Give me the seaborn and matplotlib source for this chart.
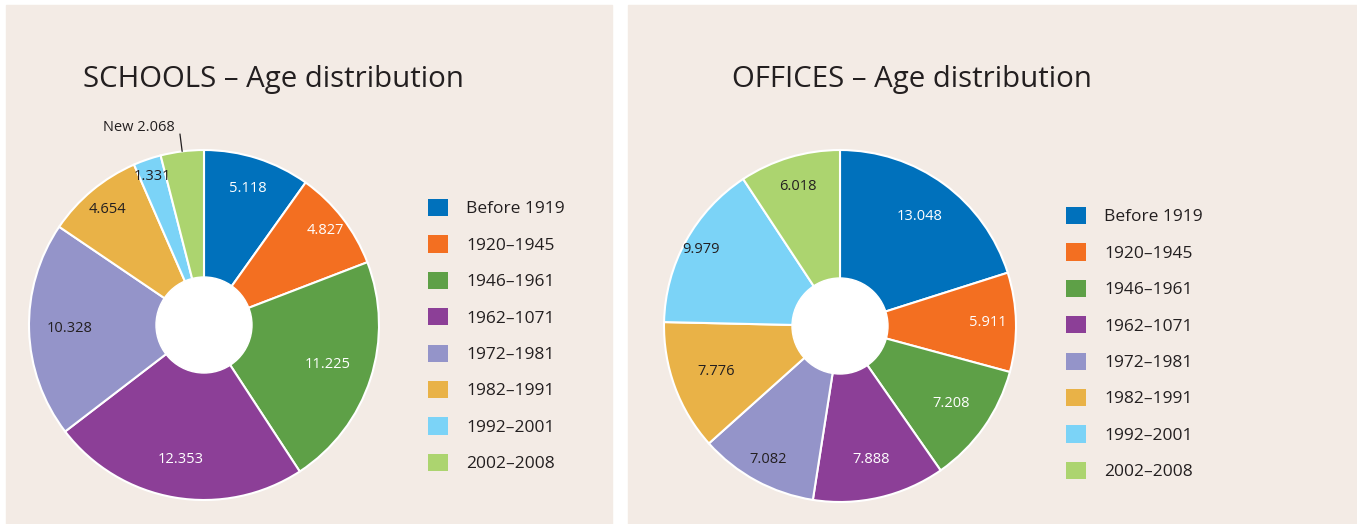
import numpy as np
import matplotlib
matplotlib.use("Agg")
import matplotlib.pyplot as plt
from matplotlib.patches import Rectangle, Circle, Patch
import seaborn as sns

sns.set_style("white")
plt.rcParams['font.family'] = ['Open Sans', 'DejaVu Sans']

# Data
periods = ['Before 1919', '1920–1945', '1946–1961', '1962–1071',
           '1972–1981', '1982–1991', '1992–2001', '2002–2008']
schools = [5.118, 4.827, 11.225, 12.353, 10.328, 4.654, 1.331, 2.068]
offices = [13.048, 5.911, 7.208, 7.888, 7.082, 7.776, 9.979, 6.018]
schools_labels = ['5.118', '4.827', '11.225', '12.353', '10.328', '4.654', '1.331', 'New 2.068']
offices_labels = ['13.048', '5.911', '7.208', '7.888', '7.082', '7.776', '9.979', '6.018']

palette = sns.color_palette(['#0071bc', '#f36f21', '#5ea047', '#8c3f97',
                             '#9494c9', '#e9b247', '#7bd3f7', '#acd46f'])
white_text = [True, True, True, True, False, False, False, False]

panel_color = '#f3ebe5'
text_color = '#231f20'

W, H = 1357, 524
fig = plt.figure(figsize=(W / 100, H / 100), dpi=100)
fig.patch.set_facecolor('white')

# panels
fig.add_artist(Rectangle((6 / W, 0), (612 - 6) / W, (H - 5) / H,
                         transform=fig.transFigure, color=panel_color, zorder=0))
fig.add_artist(Rectangle((628 / W, 0), (W - 628) / W, (H - 5) / H,
                         transform=fig.transFigure, color=panel_color, zorder=0))


def draw_donut(cx, cy, r, values, labels, title, title_x, legend_x, legend_y, label_r, outside=None):
    ax = fig.add_axes([(cx - r) / W, (H - cy - r) / H, 2 * r / W, 2 * r / H])
    wedges, _ = ax.pie(values, colors=palette, startangle=90, counterclock=False,
                       radius=1, wedgeprops=dict(edgecolor='white', linewidth=1.5))
    ax.add_patch(Circle((0, 0), 48 / r, color='white', zorder=5))
    ax.set_xlim(-1, 1)
    ax.set_ylim(-1, 1)
    ax.axis('off')

    for i, w in enumerate(wedges):
        ang = np.deg2rad((w.theta1 + w.theta2) / 2)
        if outside is not None and i == outside:
            x0, y0 = np.cos(ang), np.sin(ang)
            x1, y1 = 1.1 * np.cos(ang), 1.1 * np.sin(ang)
            ax.plot([x0, x1], [y0, y1], color=text_color, lw=0.9, clip_on=False)
            ax.text(x1 - 0.03, y1 + 0.035, labels[i], ha='right', va='center',
                    fontsize=10.5, color=text_color, clip_on=False)
            continue
        ax.text(label_r[i] * np.cos(ang), label_r[i] * np.sin(ang), labels[i],
                ha='center', va='center', fontsize=10.5,
                color='white' if white_text[i] else text_color)

    fig.text(title_x / W, 1 - 79 / H, title, fontsize=21.2, color=text_color,
             ha='left', va='center')

    handles = [Patch(facecolor=c, edgecolor='none') for c in palette]
    fig.legend(handles, periods, loc='upper left',
               bbox_to_anchor=(legend_x / W, 1 - legend_y / H),
               frameon=False, fontsize=12.5, handlelength=1.15, handleheight=1.15,
               handletextpad=1.05, labelspacing=1.03, borderaxespad=0, borderpad=0,
               labelcolor=text_color)


draw_donut(204, 325, 175, schools, schools_labels, 'SCHOOLS – Age distribution',
           83, 428, 199, [0.82, 0.88, 0.74, 0.78, 0.77, 0.86, 0.9, 0.9], outside=7)
draw_donut(840, 326, 176, offices, offices_labels, 'OFFICES – Age distribution',
           732, 1066, 207, [0.77, 0.84, 0.77, 0.78, 0.86, 0.75, 0.9, 0.83])

fig.savefig('out.png', dpi=100, facecolor=fig.get_facecolor())
